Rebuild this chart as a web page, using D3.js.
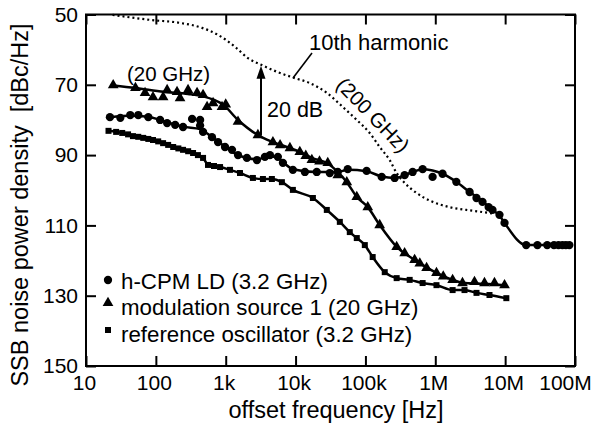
<!DOCTYPE html>
<html><head><meta charset="utf-8">
<script src="https://cdn.jsdelivr.net/npm/d3@7"></script>
<style>
html,body{margin:0;padding:0;background:#fff;}
svg text{font-family:"Liberation Sans",Arial,Helvetica,sans-serif;fill:#000;}
</style></head>
<body><svg id="c" width="593" height="425"></svg>
<script>
// ---- data (offset frequency in Hz, SSB noise in dBc/Hz) ----
const xTicks = [10, 100, 1e3, 1e4, 1e5, 1e6, 1e7, 1e8];
const xTickLabels = ["10", "100", "1k", "10k", "100k", "1M", "10M", "100M"];
const yTicks = [50, 70, 90, 110, 130, 150];
const yTickLabels = ["50", "70", "90", "110", "130", "150"];

const cpmCurve = [[22,79.2],[43,78.8],[78,79.1],[115,80.0],[189,81.3],[245,81.9],[430,82.6],[636,84.9],[977,87.6],[1500,90.0],[2800,91.2],[4300,90.4],[5580,90.8],[6590,92.0],[9150,94.0],[20100,94.8],[40200,94.8],[55800,94.2],[104000,94.6],[171000,96.1],[262000,96.5],[474000,94.8],[659000,94.0],[915000,94.4],[1.27e6,95.3],[2.0e6,97.6],[3.1e6,100.5],[4.74e6,103.1],[6.59e6,105.6],[8.3e6,107.2],[9.8e6,109.3],[2.0e7,115.6],[8.3e7,115.6]];
const cpmMarks = [[22,79.2],[31,79.4],[43,78.6],[56,78.6],[78,79.2],[115,80.0],[145,80.9],[189,81.4],[245,82.0],[330,79.7],[430,80.0],[430,81.6],[474,83.4],[636,84.9],[776,86.3],[977,87.7],[1230,88.5],[1500,90.0],[2010,90.8],[2800,91.4],[3640,90.5],[4300,90.0],[5580,90.5],[6590,92.2],[9150,94.2],[13600,94.8],[20100,94.8],[30900,95.1],[40200,94.8],[55800,94.0],[104000,94.5],[171000,96.2],[262000,96.5],[364000,95.7],[474000,94.8],[659000,94.0],[915000,96.2],[1.27e6,95.3],[2.0e6,97.6],[3.1e6,100.5],[3.89e6,102.2],[4.74e6,103.3],[5.8e6,104.8],[6.59e6,105.6],[8.3e6,107.0],[9.8e6,109.3],[2.0e7,115.6],[2.9e7,115.6],[4.0e7,115.6],[5.0e7,115.6],[5.8e7,115.6],[6.6e7,115.6],[7.4e7,115.6],[8.3e7,115.6]];

const modCurve = [[24.5,70.2],[51,70.9],[130,72.0],[290,72.6],[474,73.3],[700,74.4],[885,75.4],[1500,80.0],[2890,84.3],[4740,86.3],[8300,88.0],[11500,89.1],[17100,90.8],[28900,92.4],[40200,94.8],[54100,97.7],[75200,101.9],[108000,104.8],[160000,109.9],[280000,116.1],[506000,119.8],[1.04e6,123.5],[1.77e6,125.5],[2.45e6,126.3],[5.06e6,126.6],[9.8e6,127.0]];
const modMarks = [[24.5,70.1],[51,70.9],[70,72.3],[91,73.5],[127,73.5],[145,71.5],[201,72.0],[222,73.8],[289,71.5],[389,72.3],[474,72.9],[541,76.3],[659,75.2],[885,76.3],[1000,75.6],[1500,80.5],[2890,84.3],[4740,86.3],[6000,87.2],[8300,88.0],[11500,89.1],[14000,90.2],[17100,91.4],[22000,91.8],[28900,92.2],[40200,95.7],[54100,97.7],[75200,101.9],[108000,104.8],[160000,109.9],[280000,116.1],[364000,117.9],[506000,119.8],[600000,120.8],[751000,122.1],[1.04e6,123.5],[1.3e6,124.5],[1.77e6,125.5],[2.45e6,126.4],[3.64e6,126.1],[5.06e6,126.4],[7.03e6,126.4],[9.8e6,127.0]];

const refMarks = [[21,83.1],[27,83.4],[33,83.7],[40,84.1],[47,84.6],[56,84.8],[66,85.1],[78,85.4],[91,85.7],[108,86.1],[127,86.6],[150,87.1],[177,87.7],[210,88.1],[245,88.5],[290,88.9],[341,89.4],[400,90.0],[474,90.8],[558,92.8],[680,93.1],[830,93.4],[1150,94.2],[1600,95.1],[2450,96.5],[3410,96.8],[4580,96.8],[6370,97.7],[9150,99.9],[17700,102.2],[28000,105.6],[43000,109.0],[59700,111.9],[75200,113.6],[98000,115.6],[127000,119.0],[189000,123.3],[280000,125.0],[430000,125.5],[659000,126.4],[1.04e6,127.0],[1.77e6,128.4],[2.62e6,128.4],[3.89e6,129.2],[5.97e6,129.8],[1.04e7,130.7]];

const harmCurve = [[24,50.1],[89,51.6],[208,52.3],[458,53.8],[776,55.8],[1360,59.2],[2080,62.4],[3300,64.4],[5580,66.4],[9770,68.1],[16000,69.5],[28000,72.3],[47400,76.3],[75200,80.0],[115000,83.7],[160000,87.7],[222000,91.4],[280000,95.1],[364000,97.9],[541000,100.8],[915000,103.3],[1.6e6,104.8],[2.8e6,105.6],[4.74e6,106.2],[6.59e6,106.6]];

const legendLabels = ["h-CPM LD (3.2 GHz)", "modulation source 1 (20 GHz)", "reference oscillator (3.2 GHz)"];
const arrowSpan = [3200, 84.3, 64.3]; // frequency, from dB, to dB

// ---- layout ----
const L = 86, R = 575, T = 14.5, B = 366;
const svg = d3.select("#c");
const x = d3.scaleLog().domain([10, 1e8]).range([L, R]);
const y = d3.scaleLinear().domain([50, 150]).range([T, B]);
const FS = 21;

function styleAxis(g){
  g.select(".domain").remove();
  g.selectAll(".tick line").attr("stroke","#000").attr("stroke-width",2);
  g.attr("font-family", null).attr("font-size", null);
  g.selectAll("text").style("font-size", FS+"px").attr("fill","#000");
}
svg.append("g").attr("transform",`translate(0,${B})`)
  .call(d3.axisBottom(x).tickValues(xTicks).tickFormat((d,i)=>xTickLabels[i]).tickSize(-10).tickPadding(9))
  .call(styleAxis)
  .call(g=>g.selectAll(".tick text").attr("dx",(d,i)=> i===xTicks.length-1 ? -10 : -2));
svg.append("g").attr("transform",`translate(0,${T})`)
  .call(d3.axisTop(x).tickValues(xTicks).tickFormat("").tickSize(-10))
  .call(styleAxis);
svg.append("g").attr("transform",`translate(${L},0)`)
  .call(d3.axisLeft(y).tickValues(yTicks).tickFormat((d,i)=>yTickLabels[i]).tickSize(-10).tickPadding(8))
  .call(styleAxis);
svg.append("g").attr("transform",`translate(${R},0)`)
  .call(d3.axisRight(y).tickValues(yTicks).tickFormat("").tickSize(-10))
  .call(styleAxis);

// frame
svg.append("rect").attr("x",L).attr("y",T).attr("width",R-L).attr("height",B-T)
  .attr("fill","none").attr("stroke","#000").attr("stroke-width",2);

const line = d3.line().x(d=>x(d[0])).y(d=>y(d[1])).curve(d3.curveMonotoneX);

// dotted 10th harmonic
svg.append("path").attr("d", line(harmCurve)).attr("fill","none")
  .attr("stroke","#000").attr("stroke-width",2.2).attr("stroke-dasharray","2 3");

// solid curves
[cpmCurve, modCurve, refMarks].forEach(c=>{
  svg.append("path").attr("d", line(c)).attr("fill","none")
    .attr("stroke","#000").attr("stroke-width",2.5).attr("stroke-linejoin","round");
});

// markers
const sym = {
  circle: d3.symbol().type(d3.symbolCircle).size(54),
  triangle: d3.symbol().type(d3.symbolTriangle).size(50),
  square: d3.symbol().type(d3.symbolSquare).size(36)
};
function marks(data, s){
  svg.append("g").selectAll("path").data(data).join("path")
    .attr("d", s).attr("transform", d=>`translate(${x(d[0])},${y(d[1])})`).attr("fill","#000");
}
marks(cpmMarks, sym.circle);
marks(modMarks, sym.triangle);
marks(refMarks, sym.square);

// arrow 20 dB
const ax = x(arrowSpan[0]);
svg.append("line").attr("x1",ax).attr("x2",ax).attr("y1",y(arrowSpan[1])).attr("y2",y(arrowSpan[2])+10)
  .attr("stroke","#000").attr("stroke-width",2);
svg.append("path").attr("d",`M${ax},${y(arrowSpan[2])+1} L${ax-4.5},${y(arrowSpan[2])+14} L${ax+4.5},${y(arrowSpan[2])+14} Z`).attr("fill","#000");
svg.append("text").attr("x",267).attr("y",117).style("font-size","21.5px").text("20 dB");

// annotations
svg.append("text").attr("x",127).attr("y",81).style("font-size","20.5px").text("(20 GHz)");
svg.append("text").attr("x",309).attr("y",50).style("font-size","22px").text("10th harmonic");
svg.append("line").attr("x1",293).attr("y1",78).attr("x2",312).attr("y2",53).attr("stroke","#000").attr("stroke-width",1.6);
svg.append("text").attr("transform","translate(373,115) rotate(46)").attr("text-anchor","middle").attr("dy","0.35em")
  .style("font-size","20.5px").text("(200 GHz)");

// legend
const legSyms = [sym.circle, sym.triangle, sym.square];
const legMarkY = [280, 303, 330];
const legTextY = [289, 315, 342];
legendLabels.forEach((t,i)=>{
  svg.append("path").attr("d", legSyms[i]).attr("transform",`translate(108,${legMarkY[i]})`).attr("fill","#000");
  svg.append("text").attr("x",121).attr("y",legTextY[i]).style("font-size","22.3px").text(t);
});

// axis titles
svg.append("text").attr("x",336).attr("y",418).attr("text-anchor","middle").style("font-size","23.5px")
  .text("offset frequency [Hz]");
svg.append("text").attr("transform","translate(28,205) rotate(-90)").attr("text-anchor","middle")
  .style("font-size","23.5px").style("white-space","pre").text("SSB noise power density  [dBc/Hz]");
</script></body></html>
